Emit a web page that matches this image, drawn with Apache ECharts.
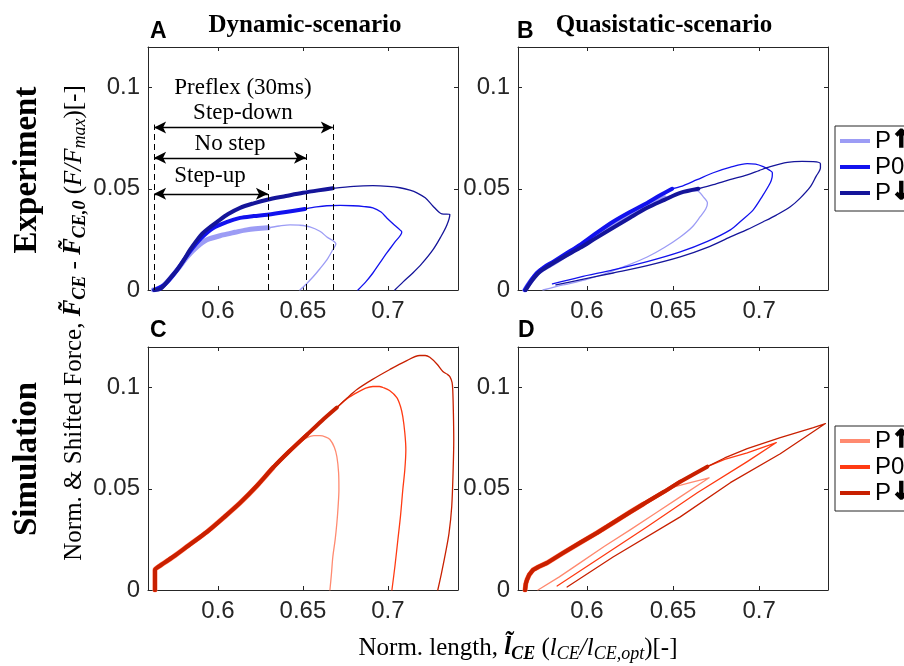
<!DOCTYPE html>
<html><head><meta charset="utf-8">
<script src="https://cdn.jsdelivr.net/npm/echarts@6/dist/echarts.min.js"></script>
<style>html,body{margin:0;padding:0;background:#fff}#c{width:904px;height:666px}</style>
</head><body><div id="c"></div>
<script>
// ---------- tick labels ----------
const xTicks = [0.6, 0.65, 0.7];
const yTicks = [0, 0.05, 0.1];

// ---------- Panel A: dynamic experiment ----------
const A_up_thick = [[0.5620,0],[0.5660,0.0010],[0.5700,0.0040],[0.5760,0.0100],[0.5820,0.0165],[0.5880,0.0215],[0.5935,0.0248],[0.6030,0.0272],[0.6100,0.0285],[0.6170,0.0297],[0.6294,0.0307]];
const A_up_thin = [[0.6294,0.0307],[0.6360,0.0316],[0.6424,0.0322],[0.6480,0.0320],[0.6541,0.0312],[0.6600,0.0290],[0.6641,0.0262],[0.6694,0.0228],[0.6670,0.0190],[0.6641,0.0149],[0.6600,0.0105],[0.6559,0.0064],[0.6520,0.0030],[0.6482,0]];
const A_zero_thick = [[0.5625,0],[0.5690,0.0030],[0.5760,0.0100],[0.5835,0.0190],[0.5900,0.0255],[0.5970,0.0305],[0.6050,0.0335],[0.6130,0.0356],[0.6210,0.0365],[0.6290,0.0372],[0.6400,0.0385],[0.6512,0.0400]];
const A_zero_thin = [[0.6512,0.0400],[0.6580,0.0410],[0.6641,0.0416],[0.6720,0.0418],[0.6794,0.0416],[0.6860,0.0412],[0.6912,0.0406],[0.6960,0.0385],[0.6994,0.0356],[0.7040,0.0320],[0.7071,0.0297],[0.7082,0.0287],[0.7040,0.0235],[0.6994,0.0183],[0.6950,0.0130],[0.6912,0.0084],[0.6870,0.0040],[0.6824,0]];
const A_down_thick = [[0.5625,0],[0.5660,0.0005],[0.5690,0.0030],[0.5725,0.0065],[0.5760,0.0100],[0.5800,0.0150],[0.5835,0.0198],[0.5875,0.0245],[0.5912,0.0282],[0.5955,0.0312],[0.5995,0.0337],[0.6060,0.0375],[0.6130,0.0406],[0.6210,0.0428],[0.6290,0.0446],[0.6400,0.0464],[0.6500,0.0480],[0.6590,0.0492],[0.6676,0.0502]];
const A_down_thin = [[0.6676,0.0502],[0.6800,0.0512],[0.6912,0.0515],[0.7000,0.0512],[0.7071,0.0505],[0.7130,0.0493],[0.7171,0.0480],[0.7220,0.0455],[0.7265,0.0415],[0.7300,0.0385],[0.7318,0.0376],[0.7365,0.0373],[0.7347,0.0320],[0.7310,0.0260],[0.7265,0.0198],[0.7200,0.0130],[0.7147,0.0084],[0.7090,0.0040],[0.7041,0]];

// ---------- Panel B: quasistatic experiment ----------
const B_up_thick = [[0.5640,0],[0.5680,0.0050],[0.5730,0.0095],[0.5800,0.0130],[0.5900,0.0185],[0.6000,0.0240],[0.6100,0.0300],[0.6200,0.0355],[0.6300,0.0400],[0.6400,0.0440],[0.6450,0.0455]];
const B_up_thin = [[0.6450,0.0455],[0.6540,0.0480],[0.6600,0.0490],[0.6640,0.0490],[0.6676,0.0460],[0.6700,0.0430],[0.6690,0.0400],[0.6658,0.0362],[0.6610,0.0310],[0.6542,0.0262],[0.6450,0.0210],[0.6350,0.0163],[0.6230,0.0120],[0.6117,0.0084],[0.5990,0.0050],[0.5862,0.0025],[0.5745,0]];
const B_zero_thick = [[0.5640,0],[0.5670,0.0040],[0.5710,0.0084],[0.5750,0.0112],[0.5803,0.0139],[0.5880,0.0180],[0.5960,0.0223],[0.6050,0.0278],[0.6152,0.0337],[0.6250,0.0385],[0.6350,0.0430],[0.6420,0.0465],[0.6495,0.0500]];
const B_zero_thin = [[0.6495,0.0500],[0.6542,0.0510],[0.6640,0.0545],[0.6734,0.0579],[0.6830,0.0605],[0.6931,0.0624],[0.6980,0.0622],[0.7024,0.0609],[0.7060,0.0592],[0.7077,0.0579],[0.7075,0.0555],[0.7065,0.0530],[0.7020,0.0465],[0.6966,0.0396],[0.6900,0.0345],[0.6833,0.0297],[0.6700,0.0240],[0.6542,0.0188],[0.6350,0.0140],[0.6152,0.0099],[0.5960,0.0064],[0.5800,0.0030]];
const B_down_thick = [[0.5645,0],[0.5680,0.0045],[0.5720,0.0085],[0.5780,0.0120],[0.5870,0.0165],[0.5960,0.0208],[0.6050,0.0255],[0.6152,0.0307],[0.6250,0.0357],[0.6350,0.0406],[0.6450,0.0445],[0.6542,0.0480],[0.6647,0.0500]];
const B_down_thin = [[0.6647,0.0500],[0.6734,0.0520],[0.6830,0.0545],[0.6931,0.0569],[0.7000,0.0590],[0.7065,0.0609],[0.7164,0.0630],[0.7250,0.0635],[0.7315,0.0634],[0.7356,0.0624],[0.7356,0.0604],[0.7330,0.0560],[0.7298,0.0510],[0.7240,0.0455],[0.7181,0.0411],[0.7100,0.0370],[0.7024,0.0337],[0.6930,0.0298],[0.6833,0.0262],[0.6700,0.0210],[0.6542,0.0163],[0.6350,0.0120],[0.6152,0.0084],[0.5960,0.0050],[0.5820,0.0025]];

// ---------- Panel C: dynamic simulation ----------
const C_up_thick = [[0.5629,0],[0.5629,0.0099],[0.5650,0.0115],[0.5735,0.0163],[0.5830,0.0222],[0.5935,0.0287],[0.6030,0.0355],[0.6130,0.0430],[0.6230,0.0515],[0.6324,0.0604]];
const C_up_thin = [[0.6324,0.0604],[0.6380,0.0655],[0.6424,0.0693],[0.6480,0.0730],[0.6524,0.0752],[0.6565,0.0762],[0.6600,0.0762],[0.6635,0.0755],[0.6659,0.0743],[0.6685,0.0705],[0.6700,0.0658],[0.6710,0.0580],[0.6712,0.0495],[0.6707,0.0410],[0.6700,0.0332],[0.6690,0.0250],[0.6676,0.0163],[0.6668,0.0080],[0.6659,0]];
const C_zero_thick = [[0.5629,0],[0.5629,0.0099],[0.5650,0.0115],[0.5735,0.0163],[0.5830,0.0222],[0.5935,0.0287],[0.6030,0.0355],[0.6130,0.0430],[0.6230,0.0515],[0.6324,0.0604],[0.6420,0.0685],[0.6524,0.0767]];
const C_zero_thin = [[0.6524,0.0767],[0.6610,0.0835],[0.6700,0.0901],[0.6760,0.0945],[0.6818,0.0975],[0.6870,0.0997],[0.6912,0.1005],[0.6950,0.1005],[0.6971,0.1000],[0.7010,0.0985],[0.7053,0.0950],[0.7075,0.0905],[0.7088,0.0856],[0.7100,0.0775],[0.7106,0.0693],[0.7100,0.0595],[0.7088,0.0495],[0.7075,0.0370],[0.7059,0.0248],[0.7042,0.0120],[0.7024,0]];
const C_down_thick = [[0.5629,0],[0.5629,0.0099],[0.5650,0.0115],[0.5735,0.0163],[0.5830,0.0222],[0.5935,0.0287],[0.6030,0.0355],[0.6130,0.0430],[0.6230,0.0515],[0.6324,0.0604],[0.6420,0.0685],[0.6524,0.0767],[0.6610,0.0835],[0.6700,0.0901]];
const C_down_thin = [[0.6700,0.0901],[0.6760,0.0948],[0.6818,0.0990],[0.6910,0.1040],[0.7012,0.1089],[0.7100,0.1128],[0.7188,0.1158],[0.7220,0.1158],[0.7247,0.1149],[0.7290,0.1115],[0.7324,0.1079],[0.7350,0.1065],[0.7365,0.1054],[0.7378,0.1025],[0.7382,0.0990],[0.7386,0.0870],[0.7388,0.0743],[0.7384,0.0580],[0.7376,0.0411],[0.7360,0.0280],[0.7335,0.0163],[0.7315,0.0080],[0.7294,0]];

// ---------- Panel D: quasistatic simulation ----------
const D_up_thick = [[0.5641,0],[0.5645,0.0030],[0.5652,0.0050],[0.5665,0.0075],[0.5687,0.0099],[0.5720,0.0115],[0.5769,0.0134],[0.5860,0.0182],[0.5960,0.0233],[0.6060,0.0283],[0.6152,0.0332],[0.6250,0.0384],[0.6327,0.0424]];
const D_up_thin = [[0.6327,0.0424],[0.6450,0.0486],[0.6501,0.0508],[0.6600,0.0530],[0.6710,0.0554],[0.6542,0.0460],[0.6400,0.0380],[0.6251,0.0297],[0.6100,0.0215],[0.5960,0.0134],[0.5840,0.0065],[0.5716,0]];
const D_zero_thick = [[0.5641,0],[0.5645,0.0030],[0.5652,0.0050],[0.5665,0.0075],[0.5687,0.0099],[0.5720,0.0115],[0.5769,0.0134],[0.5860,0.0182],[0.5960,0.0233],[0.6060,0.0283],[0.6152,0.0332],[0.6250,0.0384],[0.6350,0.0436],[0.6450,0.0486],[0.6542,0.0535]];
const D_zero_thin = [[0.6542,0.0535],[0.6620,0.0572],[0.6699,0.0609],[0.6800,0.0645],[0.6931,0.0677],[0.7100,0.0728],[0.6931,0.0634],[0.6641,0.0480],[0.6350,0.0312],[0.6059,0.0149],[0.5827,0.0020]];
const D_down_thick = [[0.5641,0],[0.5645,0.0030],[0.5652,0.0050],[0.5665,0.0075],[0.5687,0.0099],[0.5720,0.0115],[0.5769,0.0134],[0.5860,0.0182],[0.5960,0.0233],[0.6060,0.0283],[0.6152,0.0332],[0.6250,0.0384],[0.6350,0.0436],[0.6450,0.0486],[0.6542,0.0535],[0.6620,0.0572],[0.6699,0.0609]];
const D_down_thin = [[0.6699,0.0609],[0.6800,0.0652],[0.6931,0.0698],[0.7123,0.0752],[0.7315,0.0802],[0.7385,0.0822],[0.7123,0.0673],[0.6833,0.0530],[0.6542,0.0361],[0.6152,0.0163],[0.5885,0.0015]];

// ---------- Panel A annotations (data coordinates) ----------
const annoLineX = [0.5624, 0.6294, 0.6518, 0.6676];
const annoLineTop = [0.0817, 0.0535, 0.0684, 0.0817];
const arrowStartX = 0.5624;
const arrowEndX = [0.6676, 0.6518, 0.6294];
const arrowY = [0.0802, 0.0653, 0.0475];
const annoTexts = ['Preflex (30ms)', 'Step-down', 'No step', 'Step-up'];
const annoTextX = [0.6147, 0.6147, 0.6071, 0.5953];
const annoTextY = [0.1000, 0.0876, 0.0723, 0.0564];

const legendNames = { eUp: 'P{b|↑}', e0: 'P0', eDown: 'P{b|↓}', sUp: 'P{b|↑}', s0: 'P0', sDown: 'P{b|↓}' };

// ---------- styling ----------
const AX = '#262626';
const colExp = { up: '#9c9cf5', zero: '#1212ee', down: '#15159a' };
const colSim = { up: '#ff8a70', zero: '#ff3a12', down: '#c82000' };
const grids = [
  { left: 148, top: 47, width: 310, height: 243 },
  { left: 518, top: 47, width: 310, height: 243 },
  { left: 148, top: 347, width: 310, height: 243 },
  { left: 518, top: 347, width: 310, height: 243 }
];
const xRanges = [[0.5588, 0.7413], [0.56, 0.74], [0.5588, 0.7413], [0.56, 0.74]];

const xAxes = [], yAxes = [];
grids.forEach((g, i) => {
  const base = {
    type: 'value', gridIndex: i, min: xRanges[i][0], max: xRanges[i][1],
    axisLine: { show: true, onZero: false, lineStyle: { color: AX, width: 1 } },
    axisTick: { show: true, inside: true, length: 4, customValues: xTicks, lineStyle: { color: AX } },
    splitLine: { show: false }
  };
  xAxes.push(Object.assign({}, base, { position: 'bottom',
    axisLabel: { show: true, customValues: xTicks, fontSize: 24, color: AX, fontFamily: 'Liberation Sans', margin: 9 } }));
  xAxes.push(Object.assign({}, base, { position: 'top', axisLabel: { show: false } }));
  const ybase = {
    type: 'value', gridIndex: i, min: 0, max: 0.12,
    axisLine: { show: true, onZero: false, lineStyle: { color: AX, width: 1 } },
    axisTick: { show: true, inside: true, length: 4, customValues: yTicks, lineStyle: { color: AX } },
    splitLine: { show: false }
  };
  yAxes.push(Object.assign({}, ybase, { position: 'left',
    axisLabel: { show: true, customValues: yTicks, fontSize: 24, color: AX, fontFamily: 'Liberation Sans', margin: 8 } }));
  yAxes.push(Object.assign({}, ybase, { position: 'right', axisLabel: { show: false } }));
});

function ln(name, data, gi, color, width, smooth) {
  return {
    type: 'line', name: name, data: data, xAxisIndex: gi * 2, yAxisIndex: gi * 2,
    showSymbol: false, symbol: 'none', smooth: smooth, color: color,
    lineStyle: { color: color, width: width, cap: 'round', join: 'round' },
    silent: true, animation: false
  };
}

const series = [];
const panels = [
  { gi: 0, c: colExp, n: ['eUp', 'e0', 'eDown'], d: [A_up_thick, A_up_thin, A_zero_thick, A_zero_thin, A_down_thick, A_down_thin], s: 0.3 },
  { gi: 1, c: colExp, n: ['eUp', 'e0', 'eDown'], d: [B_up_thick, B_up_thin, B_zero_thick, B_zero_thin, B_down_thick, B_down_thin], s: 0.3 },
  { gi: 2, c: colSim, n: ['sUp', 's0', 'sDown'], d: [C_up_thick, C_up_thin, C_zero_thick, C_zero_thin, C_down_thick, C_down_thin], s: 0.3 },
  { gi: 3, c: colSim, n: ['sUp', 's0', 'sDown'], d: [D_up_thick, D_up_thin, D_zero_thick, D_zero_thin, D_down_thick, D_down_thin], s: false }
];
panels.forEach(p => {
  const keys = ['up', 'zero', 'down'];
  const thickW = [5, 4, 4];
  keys.forEach((k, j) => {
    series.push(ln(p.n[j], p.d[j * 2], p.gi, p.c[k], thickW[j], p.s));
    series.push(ln(p.n[j] + '_thin', p.d[j * 2 + 1], p.gi, p.c[k], 1.3, p.s));
  });
});

// annotations in panel A
const mlData = [];
annoLineX.forEach((x, i) => {
  mlData.push([{ coord: [x, 0], symbol: 'none', lineStyle: { type: [6, 4], color: '#000', width: 1 } },
               { coord: [x, annoLineTop[i]], symbol: 'none' }]);
});
arrowEndX.forEach((x, i) => {
  mlData.push([{ coord: [arrowStartX, arrowY[i]], symbol: 'arrow', lineStyle: { type: 'solid', color: '#000', width: 1.3 } },
               { coord: [x, arrowY[i]], symbol: 'arrow' }]);
});
series.push({
  type: 'scatter', name: 'anno', xAxisIndex: 0, yAxisIndex: 0, symbolSize: 0, silent: true, animation: false,
  data: annoTexts.map((t, i) => [annoTextX[i], annoTextY[i], t]),
  label: { show: true, position: 'inside', formatter: p => p.data[2], fontSize: 23, color: '#000',
    fontFamily: 'Liberation Serif', textBorderWidth: 0, textBorderColor: 'transparent', opacity: 1 },
  markLine: { silent: true, animation: false, symbolSize: [9, 12], label: { show: false }, data: mlData }
});

function legendCfg(top, names) {
  return {
    data: names, left: 835, top: top, orient: 'vertical', icon: 'rect',
    itemWidth: 30, itemHeight: 4, itemGap: 0, selectedMode: false,
    borderColor: AX, borderWidth: 1, padding: [2, 30, 5, 5], backgroundColor: '#fff',
    formatter: n => legendNames[n],
    textStyle: { fontSize: 24, lineHeight: 26, color: '#000', fontFamily: 'Liberation Sans',
      rich: { b: { fontSize: 24, lineHeight: 26, fontWeight: 'bold', fontFamily: 'DejaVu Sans', color: '#000',
        textBorderColor: '#000', textBorderWidth: 1.6 } } }
  };
}

const serif = 'Liberation Serif';
const richY = {
  n: { fontSize: 25, fontFamily: serif, lineHeight: 30, fill: '#000' },
  b: { fontSize: 25, fontFamily: serif, fontWeight: 'bold', fontStyle: 'italic', lineHeight: 30, fill: '#000' },
  bs: { fontSize: 18, fontFamily: serif, fontWeight: 'bold', fontStyle: 'italic', lineHeight: 20, verticalAlign: 'bottom', fill: '#000' },
  i: { fontSize: 25, fontFamily: serif, fontStyle: 'italic', lineHeight: 30, fill: '#000' },
  is: { fontSize: 18, fontFamily: serif, fontStyle: 'italic', lineHeight: 20, verticalAlign: 'bottom', fill: '#000' }
};

const graphic = [
  { type: 'text', x: 150, y: 32, style: { text: 'A', font: 'bold 23px "Liberation Sans"', fill: '#000', textVerticalAlign: 'middle' } },
  { type: 'text', x: 517, y: 32, style: { text: 'B', font: 'bold 23px "Liberation Sans"', fill: '#000', textVerticalAlign: 'middle' } },
  { type: 'text', x: 150, y: 331, style: { text: 'C', font: 'bold 23px "Liberation Sans"', fill: '#000', textVerticalAlign: 'middle' } },
  { type: 'text', x: 518, y: 331, style: { text: 'D', font: 'bold 23px "Liberation Sans"', fill: '#000', textVerticalAlign: 'middle' } },
  { type: 'text', x: 305, y: 26, style: { text: 'Dynamic-scenario', font: 'bold 25px "Liberation Serif"', fill: '#000', textAlign: 'center', textVerticalAlign: 'middle' } },
  { type: 'text', x: 664, y: 26, style: { text: 'Quasistatic-scenario', font: 'bold 25px "Liberation Serif"', fill: '#000', textAlign: 'center', textVerticalAlign: 'middle' } },
  { type: 'text', x: 27, y: 170, rotation: Math.PI / 2, style: { text: 'Experiment', font: 'bold 33px "Liberation Serif"', fill: '#000', textAlign: 'center', textVerticalAlign: 'middle' } },
  { type: 'text', x: 27, y: 459, rotation: Math.PI / 2, style: { text: 'Simulation', font: 'bold 33px "Liberation Serif"', fill: '#000', textAlign: 'center', textVerticalAlign: 'middle' } },
  { type: 'text', x: 74, y: 323, rotation: Math.PI / 2, style: {
      text: '{n|Norm. & Shifted Force, }{b|F\u0303}{bs|CE}{n| - }{b|F\u0303}{bs|CE,0}{n| (}{i|F/F}{is|max}{n|)[-]}',
      rich: richY, textAlign: 'center', textVerticalAlign: 'middle' } },
  { type: 'text', x: 518, y: 648, style: {
      text: '{n|Norm. length, }{b|l\u0303}{bs|CE}{n| (}{i|l}{is|CE}{i|/l}{is|CE,opt}{n|)[-]}',
      rich: richY, textAlign: 'center', textVerticalAlign: 'middle' } }
];

const chart = echarts.init(document.getElementById('c'), null, { renderer: 'canvas' });
chart.setOption({
  animation: false,
  backgroundColor: '#fff',
  grid: grids,
  xAxis: xAxes,
  yAxis: yAxes,
  legend: [legendCfg(126, ['eUp', 'e0', 'eDown']), legendCfg(426, ['sUp', 's0', 'sDown'])],
  series: series,
  graphic: graphic
});
</script></body></html>
